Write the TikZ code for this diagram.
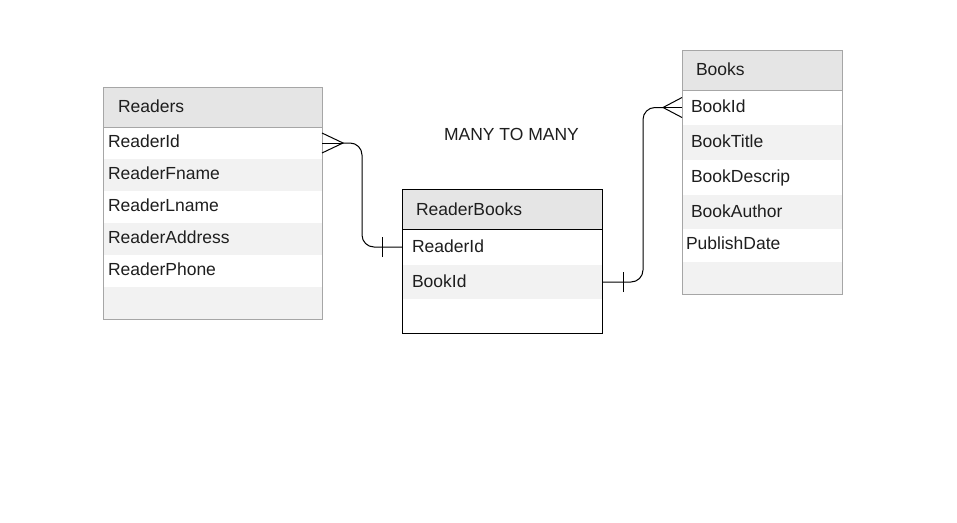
\documentclass[tikz,border=0pt]{standalone}
\usepackage{fontspec}
\setmainfont{Liberation Sans}
\definecolor{hdrgray}{HTML}{E5E5E5}
\definecolor{rowgray}{HTML}{F2F2F2}
\definecolor{bordgray}{HTML}{A6A6A6}
\definecolor{txt}{HTML}{1E1E1E}
\newcommand\erfont{\fontsize{17.5}{21}\selectfont}
\begin{document}
\begin{tikzpicture}[x=1pt,y=-1pt,
  cellw/.style={anchor=north west, inner sep=0pt, outer sep=0pt, draw=none, fill=white},
  cellg/.style={cellw, fill=rowgray},
  cellh/.style={cellw, fill=hdrgray},
  lbl/.style={anchor=base west, inner sep=0pt, outer sep=0pt, text=txt, font=\erfont},
  tblgray/.style={anchor=north west, inner sep=0pt, outer sep=0pt, draw=bordgray, line width=1pt},
  tblblack/.style={tblgray, draw=black},
  conn/.style={draw=black, line width=1pt}
]
\useasboundingbox (0,0) rectangle (957,522);
\fill[white] (0,0) rectangle (957,522);

% ---------- Readers ----------
\node[cellh, minimum width=219pt, minimum height=40pt] (rh) at (103,87) {};
\node[cellw, minimum width=219pt, minimum height=32pt] (rr1) at (103,127) {};
\node[cellg, minimum width=219pt, minimum height=32pt] (rr2) at (103,159) {};
\node[cellw, minimum width=219pt, minimum height=32pt] (rr3) at (103,191) {};
\node[cellg, minimum width=219pt, minimum height=32pt] (rr4) at (103,223) {};
\node[cellw, minimum width=219pt, minimum height=32pt] (rr5) at (103,255) {};
\node[cellg, minimum width=219pt, minimum height=32pt] (rr6) at (103,287) {};
\node[tblgray, minimum width=219pt, minimum height=232pt] (rt) at (103,87) {};
\draw[draw=bordgray, line width=1pt] (rh.south west) -- (rh.south east);
\node[lbl] (rhl) at (118,112) {Readers};
\node[lbl] (rl1) at (108,147) {ReaderId};
\node[lbl] (rl2) at (108,179) {ReaderFname};
\node[lbl] (rl3) at (108,211) {ReaderLname};
\node[lbl] (rl4) at (108,243) {ReaderAddress};
\node[lbl] (rl5) at (108,275) {ReaderPhone};

% ---------- ReaderBooks ----------
\node[cellh, minimum width=200pt, minimum height=40pt] (bh) at (402,189) {};
\node[cellw, minimum width=200pt, minimum height=36pt] (rb1) at (402,229) {};
\node[cellg, minimum width=200pt, minimum height=34pt] (rb2) at (402,265) {};
\node[cellw, minimum width=200pt, minimum height=34pt] (rb3) at (402,299) {};
\node[tblblack, minimum width=200pt, minimum height=144pt] (bt) at (402,189) {};
\draw[draw=black, line width=1pt] (bh.south west) -- (bh.south east);
\node[lbl] (bhl) at (416,215) {ReaderBooks};
\node[lbl] (bl1) at (412,252) {ReaderId};
\node[lbl] (bl2) at (412,287) {BookId};

% ---------- Books ----------
\node[cellh, minimum width=160pt, minimum height=40pt] (kh) at (682,50) {};
\node[cellw, minimum width=160pt, minimum height=35pt] (bk1) at (682,90) {};
\node[cellg, minimum width=160pt, minimum height=35pt] (bk2) at (682,125) {};
\node[cellw, minimum width=160pt, minimum height=35pt] (bk3) at (682,160) {};
\node[cellg, minimum width=160pt, minimum height=34pt] (bk4) at (682,195) {};
\node[cellw, minimum width=160pt, minimum height=33pt] (bk5) at (682,229) {};
\node[cellg, minimum width=160pt, minimum height=32pt] (bk6) at (682,262) {};
\node[tblgray, minimum width=160pt, minimum height=244pt] (kt) at (682,50) {};
\draw[draw=bordgray, line width=1pt] (kh.south west) -- (kh.south east);
\node[lbl] (khl) at (696,75) {Books};
\node[lbl] (kl1) at (691,112) {BookId};
\node[lbl] (kl2) at (691,147) {BookTitle};
\node[lbl] (kl3) at (691,182) {BookDescrip};
\node[lbl] (kl4) at (691,217) {BookAuthor};
\node[lbl] (kl5) at (686,249) {PublishDate};

% ---------- label ----------
\node[lbl] (many) at (444,140) {MANY TO MANY};

% ---------- connectors ----------
% Readers.ReaderId  >----|-  ReaderBooks.ReaderId
\coordinate (a1) at ([xshift=21pt]rr1.east);
\coordinate (c1) at (362,247);
\draw[conn] ([yshift=-10pt]rr1.east) -- (a1) -- ([yshift=10pt]rr1.east);
\draw[conn] (rr1.east) -- (a1);
\draw[conn, rounded corners=12pt] (a1) -| (c1) -- (rb1.west);
\draw[conn] ([xshift=-20pt,yshift=-10pt]rb1.west) -- ([xshift=-20pt,yshift=10pt]rb1.west);

% ReaderBooks.BookId  -|----<  Books.BookId
\coordinate (a2) at ([xshift=-19pt]bk1.west);
\coordinate (c2) at (643,107.5);
\draw[conn] ([yshift=-10pt]bk1.west) -- (a2) -- ([yshift=10pt]bk1.west);
\draw[conn] (bk1.west) -- (a2);
\draw[conn, rounded corners=12pt] (rb2.east) -| (c2) -- (a2);
\draw[conn] ([xshift=21pt,yshift=-10pt]rb2.east) -- ([xshift=21pt,yshift=10pt]rb2.east);
\end{tikzpicture}
\end{document}
